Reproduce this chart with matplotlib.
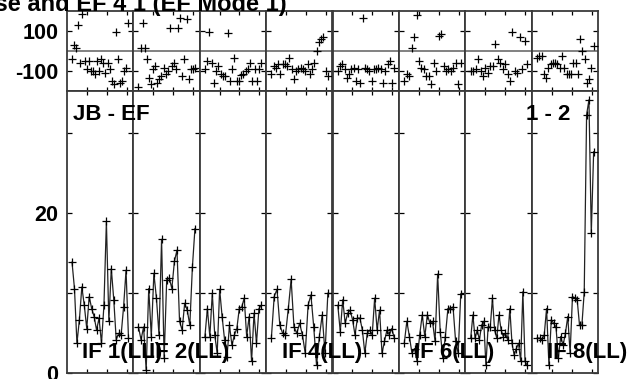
import numpy as np
import matplotlib
matplotlib.use("Agg")
import matplotlib.pyplot as plt

plt.rcParams['font.family'] = ['Liberation Sans', 'DejaVu Sans']
plt.rcParams['font.weight'] = 'bold'

# ---------------- data ----------------
if_labels = ["IF 1(LL)", "IF 2(LL)", "IF 3(LL)", "IF 4(LL)",
             "IF 5(LL)", "IF 6(LL)", "IF 7(LL)", "IF 8(LL)"]
shown_labels = [0, 1, 3, 5, 7]

phase_if1 = [-38, 28, 17, 128, -58, 183, -50, -92, -50, -100, -100, -117, -50, -100,
             -42, -58, -112, -58, -92, -150, -163, 95, -42, -158, -150, -100, -83, 138]
phase_if2 = [-178, 17, 142, 17, -42, -133, -163, -92, -75, -160, -142, -125, -83, -117,
             -100, 113, -75, -58, -92, 113, 165, -125, -42, 158, -142, -92, -92, -83]
phase_if3 = [-92, -50, 95, -58, -158, -100, -75, -117, -125, -125, 88, -150, -92, -33,
             -150, -150, -120, -117, -100, -92, -58, -150, -92, -150, -92, -58]
phase_if4 = [-117, -75, -83, -67, -117, -67, -67, -75, -33, -92, -142, -100, -92, -83,
             -92, -100, -67, -117, -92, -58, 0, 45, 58, 68, -100, -125]
phase_if5 = [-100, -75, -67, -92, -133, -117, -92, -83, -150, -92, -158, 165, -83, -92,
             -100, -150, -92, -92, -83, -92, -158, -100, -67, -50, -158, -83]
phase_if6 = [-150, -117, -125, 17, 72, 178, -50, -83, -92, -125, -125, -167, -58, -100,
             75, 83, -75, -100, -92, -100, -83, -58, -167, -58]
phase_if7 = [-100, -100, -92, -42, -100, -125, -83, -108, -75, -75, 33, -42, -58, -92,
             -67, -117, -150, 95, -100, -108, 72, -92, 50, -67]
phase_if8 = [-33, -25, -25, -117, -133, -83, -67, -58, -58, -67, -83, -25, -83, -117,
             -117, -117, -58, -58, -117, 58, 0, -42, -158, -142, -83, 25]

amp_if1 = [13.9, 10.6, 3.75, 6.7, 10.8, 8.5, 5.6, 9.6, 8.1, 7.1, 5.4, 6.9, 3.75, 8.5,
           19.0, 6.5, 13.1, 9.2, 4.2, 5.0, 4.8, 8.3, 12.9, 4.4]
amp_if2 = [5.8, 4.2, 5.8, 0.4, 10.6, 4.6, 12.5, 9.4, 4.8, 16.75, 1.9, 11.7, 11.9, 10.6,
           14.0, 15.4, 6.5, 5.4, 8.75, 7.9, 6.0, 13.25, 18.1]
amp_if3 = [4.6, 8.1, 4.6, 10.0, 4.8, 2.5, 10.5, 7.1, 4.2, 2.1, 6.0, 3.5, 4.8, 5.6,
           8.1, 8.3, 9.4, 4.6, 7.1, 1.5, 7.5, 3.75, 8.1, 8.5]
amp_if4 = [4.4, 9.6, 10.5, 6.0, 5.0, 4.8, 8.1, 11.75, 5.8, 5.0, 6.25, 4.8, 2.5, 8.5,
           9.8, 5.8, 1.0, 4.6, 7.3, 2.5, 10.0]
amp_if5 = [8.5, 5.2, 9.2, 6.25, 7.5, 7.9, 6.7, 4.8, 6.9, 6.9, 5.4, 2.5, 5.0, 5.4,
           4.8, 9.4, 5.4, 7.9, 2.5, 4.0, 5.4, 4.8, 5.6, 4.4]
amp_if6 = [3.75, 6.5, 4.6, 2.5, 3.1, 1.5, 4.8, 7.3, 4.6, 7.3, 6.25, 6.5, 4.0, 12.4,
           5.2, 1.9, 4.6, 8.1, 8.1, 8.3, 4.0, 2.5, 9.9]
amp_if7 = [4.4, 7.3, 4.4, 5.4, 4.2, 6.0, 6.5, 1.0, 5.8, 5.8, 9.4, 5.4, 4.4, 7.3,
           5.4, 4.6, 5.0, 4.2, 8.1, 3.75, 2.3, 3.1, 3.75, 1.5, 10.2, 1.5, 1.0]
amp_if8 = [4.4, 4.4, 4.2, 4.8, 8.1, 1.0, 6.7, 6.25, 5.8, 1.9, 4.6, 3.5, 5.0, 7.1,
           2.5, 9.6, 9.4, 9.2, 6.0, 6.0, 10.2, 32.3, 34.2, 17.5, 27.7]

phases = [phase_if1, phase_if2, phase_if3, phase_if4,
          phase_if5, phase_if6, phase_if7, phase_if8]
amps = [amp_if1, amp_if2, amp_if3, amp_if4, amp_if5, amp_if6, amp_if7, amp_if8]

phase_ticks = [-100, 100]
amp_ticks = [0, 10, 20, 30]
amp_ticklabels = ["0", "", "20", ""]

# ---------------- layout ----------------
W, H = 634, 379
fig = plt.figure(figsize=(W / 100, H / 100), dpi=100)

x0, x1 = 66.7, 598.3
pw = (x1 - x0) / 8
top_t, top_b = 11.0, 91.0
bot_t, bot_b = 91.0, 373.3

spine_col = '#3a3a3a'
FS = 16


def style(ax, yt, ylab, first):
    ax.set_xlim(0, 1)
    ax.set_xticks([0.3, 0.6, 0.9])
    ax.set_xticklabels([])
    ax.set_yticks(yt)
    if first:
        ax.set_yticklabels(ylab, fontsize=15.5, fontweight='bold')
    else:
        ax.set_yticklabels([])
    ax.tick_params(direction='in', top=True, right=True, length=3.6, width=0.9,
                   color='black', pad=6)
    ax.tick_params(axis='x', length=3.0)
    for s in ax.spines.values():
        s.set_color(spine_col)
        s.set_linewidth(1.3)


for i in range(8):
    left = (x0 + i * pw) / W
    # phase panel
    axp = fig.add_axes([left, 1 - top_b / H, pw / W, (top_b - top_t) / H])
    ph = phases[i]
    xp = np.linspace(0.08, 0.93, len(ph))
    axp.axhline(0, color='#777777', lw=1.3, zorder=1)
    axp.plot(xp, ph, ls='none', marker='+', ms=6, mew=0.9, color='black', zorder=3)
    axp.set_ylim(-200, 200)
    style(axp, phase_ticks, ["-100", "100"], i == 0)

    # amplitude panel
    axa = fig.add_axes([left, 1 - bot_b / H, pw / W, (bot_b - bot_t) / H])
    am = amps[i]
    xa = np.linspace(0.08, 0.93, len(am))
    axa.plot(xa, am, ls='-', lw=0.9, color='#222222', marker='+', ms=6, mew=0.9,
             mec='black', zorder=3)
    axa.set_ylim(0, 35.3)
    style(axa, amp_ticks, amp_ticklabels, i == 0)

# IF labels drawn above all panels; earlier labels on top
for k, i in enumerate(shown_labels):
    fig.text((x0 + i * pw + 15.5) / W, 1 - 358 / H, if_labels[i],
             fontsize=FS, fontweight='bold', ha='left', va='baseline',
             zorder=20 - k)

fig.text(72.7 / W, 1 - 119.5 / H, "JB - EF", fontsize=FS, fontweight='bold',
         ha='left', va='baseline')
fig.text(526 / W, 1 - 119.5 / H, "1 - 2", fontsize=FS, fontweight='bold',
         ha='left', va='baseline')
fig.text(287 / W, 1 - 11.5 / H, "Phase and EF 4 1 (EF Mode 1)", fontsize=17,
         fontweight='bold', ha='right', va='baseline')

fig.savefig("out.png", dpi=100)
